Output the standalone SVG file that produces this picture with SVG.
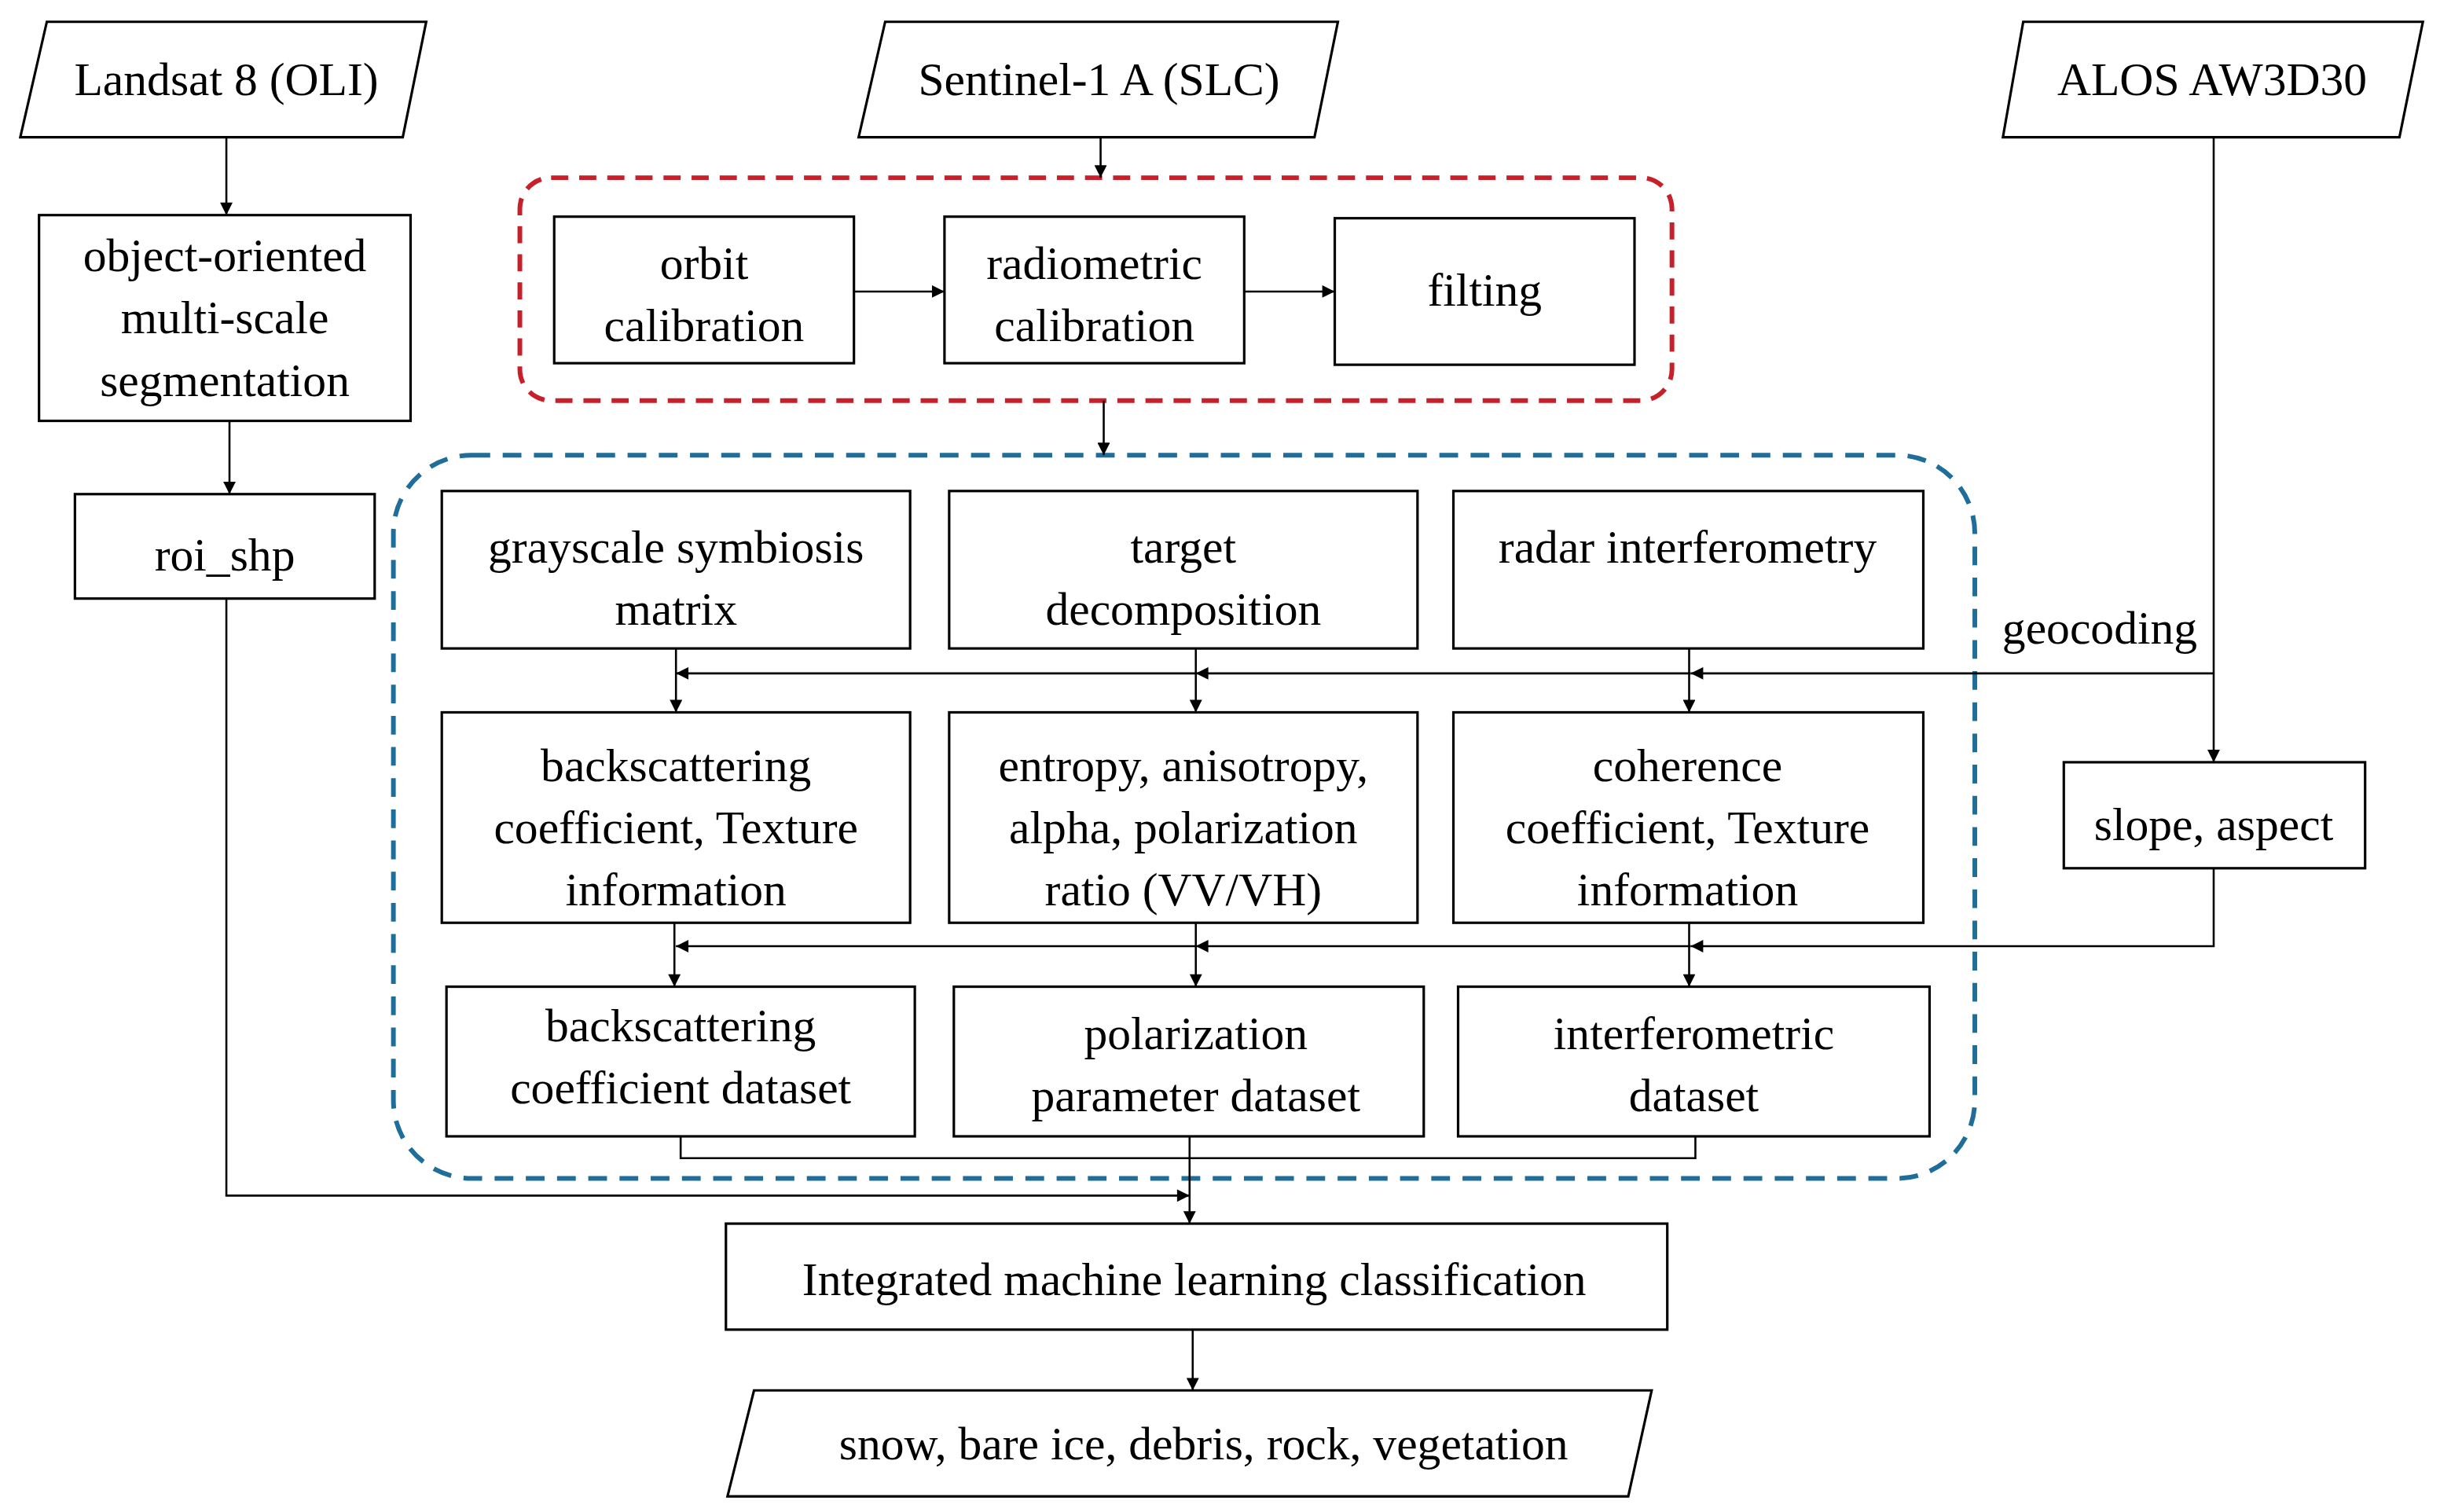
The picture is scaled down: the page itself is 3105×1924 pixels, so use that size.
<svg xmlns="http://www.w3.org/2000/svg" width="3105" height="1924" viewBox="0 0 3105 1924">
<defs>
<marker id="ah" viewBox="0 0 10 10" refX="10" refY="5" markerWidth="9" markerHeight="8" markerUnits="userSpaceOnUse" orient="auto"><path d="M0,0 L10,5 L0,10 z" fill="#000"/></marker>
<style>
.b{fill:#fff;stroke:#000;stroke-width:1.6}
.t{font-family:"Liberation Serif","Times New Roman",serif;font-size:30px;fill:#000;text-anchor:middle}
.c{fill:none;stroke:#000;stroke-width:1.3}
.a{marker-end:url(#ah)}
</style>
</defs>
<rect width="3105" height="1924" fill="#fff"/>
<g transform="scale(1.9866,1.9835)">
<g id="groups">
<rect x="333" y="114" width="738" height="143" rx="20" fill="none" stroke="#c8202a" stroke-width="3" stroke-dasharray="11,7"/>
<rect x="252" y="292" width="1013" height="464" rx="50" fill="none" stroke="#1f6e99" stroke-width="3" stroke-dasharray="12,8"/>
</g>
<g id="connectors">
<path class="c a" d="M145,88 V138"/>
<path class="c a" d="M147,270 V317"/>
<path class="c a" d="M145,384 V767 H762"/>
<path class="c a" d="M705,88 V114"/>
<path class="c a" d="M547,187 H605"/>
<path class="c a" d="M797,187 H855"/>
<path class="c a" d="M707,257 V292"/>
<path class="c a" d="M1418,88 V489"/>
<path class="c a" d="M1418,432 H1083"/>
<path class="c a" d="M1083,432 H766"/>
<path class="c a" d="M766,432 H433"/>
<path class="c a" d="M433,416 V457"/>
<path class="c a" d="M766,416 V457"/>
<path class="c a" d="M1082,416 V457"/>
<path class="c a" d="M1418,557 V607 H1083"/>
<path class="c a" d="M1083,607 H766"/>
<path class="c a" d="M766,607 H433"/>
<path class="c a" d="M432,592 V633"/>
<path class="c a" d="M766,592 V633"/>
<path class="c a" d="M1082,592 V633"/>
<path class="c" d="M436,729 V743 H1086 V729"/>
<path class="c a" d="M762,729 V785"/>
<path class="c a" d="M764,853 V892"/>
<text class="t" x="1345" y="413">geocoding</text>
</g>
<g id="landsat"><polygon class="b" points="30,14 273,14 258,88 13,88"/><text class="t" x="145" y="61">Landsat 8 (OLI)</text></g>
<g id="sentinel"><polygon class="b" points="567,14 857,14 842,88 550,88"/><text class="t" x="704" y="61">Sentinel-1 A (SLC)</text></g>
<g id="alos"><polygon class="b" points="1296,14 1552,14 1537,88 1283,88"/><text class="t" x="1417" y="61">ALOS AW3D30</text></g>
<g id="oos"><rect class="b" x="25" y="138" width="238" height="132"/><text class="t" x="144" y="174">object-oriented</text><text class="t" x="144" y="214">multi-scale</text><text class="t" x="144" y="254">segmentation</text></g>
<g id="roi"><rect class="b" x="48" y="317" width="192" height="67"/><text class="t" x="144" y="366">roi_shp</text></g>
<g id="orbit"><rect class="b" x="355" y="139" width="192" height="94" stroke-width="2.5"/><text class="t" x="451" y="179">orbit</text><text class="t" x="451" y="219">calibration</text></g>
<g id="radio"><rect class="b" x="605" y="139" width="192" height="94" stroke-width="2"/><text class="t" x="701" y="179">radiometric</text><text class="t" x="701" y="219">calibration</text></g>
<g id="filt"><rect class="b" x="855" y="140" width="192" height="94"/><text class="t" x="951" y="196">filting</text></g>
<g id="glcm"><rect class="b" x="283" y="315" width="300" height="101"/><text class="t" x="433" y="361">grayscale symbiosis</text><text class="t" x="433" y="401">matrix</text></g>
<g id="tdec"><rect class="b" x="608" y="315" width="300" height="101"/><text class="t" x="758" y="361">target</text><text class="t" x="758" y="401">decomposition</text></g>
<g id="insar"><rect class="b" x="931" y="315" width="301" height="101"/><text class="t" x="1081" y="361">radar interferometry</text></g>
<g id="slope"><rect class="b" x="1322" y="489" width="193" height="68"/><text class="t" x="1418" y="539">slope, aspect</text></g>
<g id="bsc"><rect class="b" x="283" y="457" width="300" height="135"/><text class="t" x="433" y="501">backscattering</text><text class="t" x="433" y="541">coefficient, Texture</text><text class="t" x="433" y="581">information</text></g>
<g id="ent"><rect class="b" x="608" y="457" width="300" height="135"/><text class="t" x="758" y="501">entropy, anisotropy,</text><text class="t" x="758" y="541">alpha, polarization</text><text class="t" x="758" y="581">ratio (VV/VH)</text></g>
<g id="coh"><rect class="b" x="931" y="457" width="301" height="135"/><text class="t" x="1081" y="501">coherence</text><text class="t" x="1081" y="541">coefficient, Texture</text><text class="t" x="1081" y="581">information</text></g>
<g id="bsd"><rect class="b" x="286" y="633" width="300" height="96"/><text class="t" x="436" y="668">backscattering</text><text class="t" x="436" y="708">coefficient dataset</text></g>
<g id="ppd"><rect class="b" x="611" y="633" width="301" height="96"/><text class="t" x="766" y="673">polarization</text><text class="t" x="766" y="713">parameter dataset</text></g>
<g id="ifd"><rect class="b" x="934" y="633" width="302" height="96"/><text class="t" x="1085" y="673">interferometric</text><text class="t" x="1085" y="713">dataset</text></g>
<g id="iml"><rect class="b" x="465" y="785" width="603" height="68"/><text class="t" x="765" y="831">Integrated machine learning classification</text></g>
<g id="out"><polygon class="b" points="483,892 1058,892 1043,960 466,960"/><text class="t" x="771" y="936">snow, bare ice, debris, rock, vegetation</text></g>
</g>
</svg>
